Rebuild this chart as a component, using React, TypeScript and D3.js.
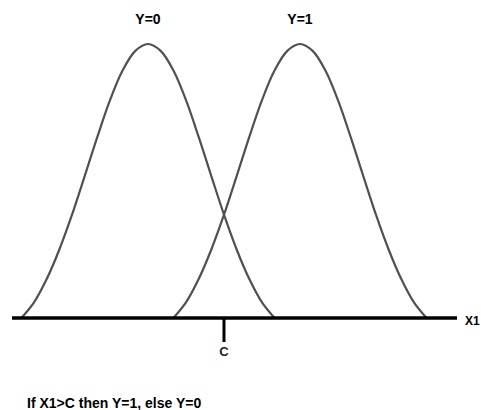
import React, { useEffect, useRef } from "react";
import * as d3 from "d3";

// Two overlapping class densities with a decision threshold C

const classLabels = ["Y=0", "Y=1"];
const classPeaks = [0, 6];
const thresholdValue = 3;
const thresholdLabel = "C";
const axisLabel = "X1";
const ruleText = "If X1>C then Y=1, else Y=0";

const y0X = [-5, -4.5, -4, -3.5, -3, -2.5, -2, -1.5, -1, -0.5, 0, 0.5, 1, 1.5, 2, 2.5, 3, 3.5, 4, 4.5, 5];
const y0H = [0, 0.057, 0.142, 0.25, 0.377, 0.518, 0.661, 0.795, 0.904, 0.975, 1, 0.975, 0.904, 0.795, 0.661, 0.518, 0.377, 0.25, 0.142, 0.057, 0];
const y1X = [1, 1.5, 2, 2.5, 3, 3.5, 4, 4.5, 5, 5.5, 6, 6.5, 7, 7.5, 8, 8.5, 9, 9.5, 10, 10.5, 11];
const y1H = [0, 0.057, 0.142, 0.25, 0.377, 0.518, 0.661, 0.795, 0.904, 0.975, 1, 0.975, 0.904, 0.795, 0.661, 0.518, 0.377, 0.25, 0.142, 0.057, 0];

const W = 481, H = 410;

export default function App() {
  const ref = useRef<SVGSVGElement>(null);

  useEffect(() => {
    const svg = d3.select(ref.current);
    svg.selectAll("*").remove();

    const x = d3.scaleLinear().domain([-5.37, 12.2]).range([12, 457]);
    const y = d3.scaleLinear().domain([0, 1]).range([318, 44]);

    const line = d3.line<[number, number]>()
      .x(d => x(d[0]))
      .y(d => y(d[1]))
      .curve(d3.curveCatmullRom);

    const series = [
      d3.zip(y0X, y0H) as [number, number][],
      d3.zip(y1X, y1H) as [number, number][],
    ];

    svg.selectAll(".curve").data(series).join("path")
      .attr("class", "curve")
      .attr("d", d => line(d))
      .attr("fill", "none")
      .attr("stroke", "#505050")
      .attr("stroke-width", 2.2);

    // axis
    svg.append("line")
      .attr("x1", x.range()[0]).attr("x2", x.range()[1])
      .attr("y1", y(0)).attr("y2", y(0))
      .attr("stroke", "#000").attr("stroke-width", 3.5);

    // threshold tick
    svg.append("line")
      .attr("x1", x(thresholdValue)).attr("x2", x(thresholdValue))
      .attr("y1", y(0)).attr("y2", y(0) + 24)
      .attr("stroke", "#000").attr("stroke-width", 3);

    svg.append("text")
      .attr("x", x(thresholdValue))
      .attr("y", 356)
      .attr("text-anchor", "middle")
      .attr("font-weight", "bold")
      .attr("font-size", 13)
      .attr("fill", "#222")
      .text(thresholdLabel);

    svg.append("text")
      .attr("x", 465)
      .attr("y", 325)
      .attr("font-weight", "bold")
      .attr("font-size", 12)
      .text(axisLabel);

    svg.selectAll(".cls").data(classLabels).join("text")
      .attr("class", "cls")
      .attr("x", (d, i) => x(classPeaks[i]))
      .attr("y", 24)
      .attr("text-anchor", "middle")
      .attr("font-weight", "bold")
      .attr("font-size", 14)
      .text(d => d);

    svg.append("text")
      .attr("x", 27)
      .attr("y", 408)
      .attr("font-weight", "bold")
      .attr("font-size", 14)
      .text(ruleText);
  }, []);

  return (
    <svg
      ref={ref}
      width={W}
      height={H}
      style={{ position: "fixed", left: 0, top: 0, background: "#fff", fontFamily: "Arial, 'Liberation Sans', sans-serif" }}
    />
  );
}
